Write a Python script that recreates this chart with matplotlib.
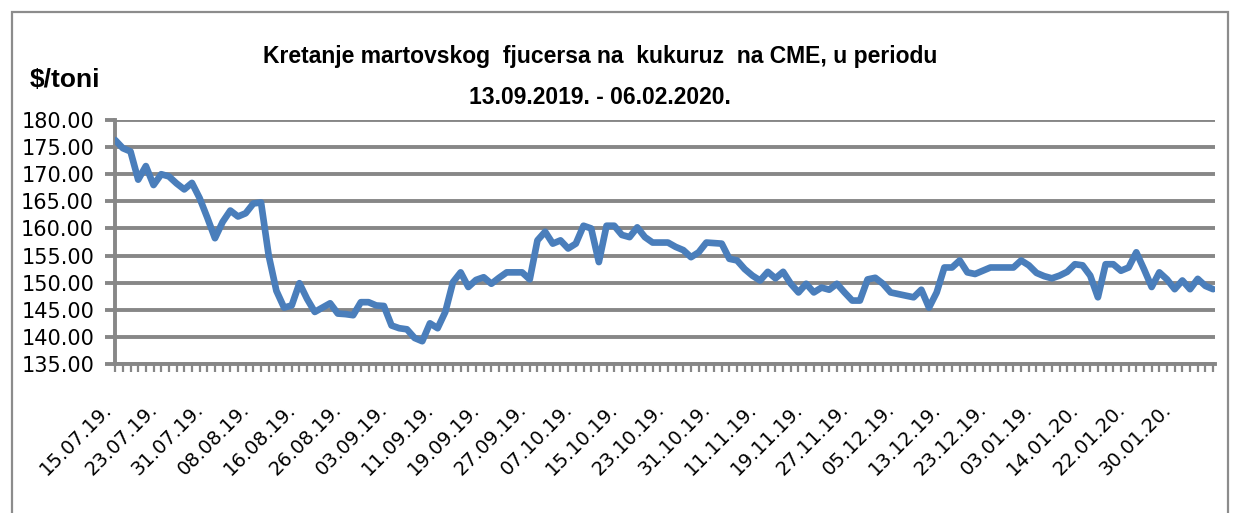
import matplotlib
matplotlib.use("Agg")
import matplotlib.pyplot as plt
from matplotlib.patches import Rectangle
from matplotlib.transforms import ScaledTranslation

# ---- data ----
values = [
    176.3, 174.8, 174.2, 169.0, 171.5, 168.0, 170.0, 169.6, 168.3, 167.2,
    168.4, 165.6, 162.0, 158.2, 161.2, 163.3, 162.2, 162.8, 164.6, 164.8,
    155.0, 148.5, 145.4, 145.8, 149.9, 147.0, 144.6, 145.4, 146.2, 144.3,
    144.2, 144.0, 146.4, 146.4, 145.8, 145.7, 142.1, 141.6, 141.4, 139.8,
    139.2, 142.5, 141.6, 144.6, 150.1, 151.9, 149.2, 150.5, 151.0, 149.8,
    150.9, 151.9, 151.9, 151.9, 150.6, 157.8, 159.4, 157.2, 157.8, 156.3,
    157.2, 160.5, 160.0, 153.8, 160.5, 160.5, 158.8, 158.4, 160.2, 158.4,
    157.4, 157.4, 157.4, 156.6, 156.0, 154.7, 155.6, 157.4, 157.3, 157.2,
    154.4, 154.1, 152.5, 151.3, 150.4, 152.0, 150.8, 152.0, 149.8, 148.2,
    149.8, 148.2, 149.1, 148.7, 149.8, 148.2, 146.7, 146.7, 150.6, 150.9,
    149.8, 148.2, 147.9, 147.6, 147.3, 148.7, 145.4, 148.2, 152.8, 152.8,
    154.1, 151.9, 151.6, 152.2, 152.8, 152.8, 152.8, 152.8, 154.1, 153.2,
    151.8, 151.2, 150.8, 151.3, 152.0, 153.4, 153.2, 151.3, 147.3, 153.4,
    153.4, 152.2, 152.8, 155.6, 152.5, 149.2, 151.9, 150.6, 148.8, 150.4,
    148.8, 150.7, 149.4, 148.8,
]
tick_labels = [
    "15.07.19.", "23.07.19.", "31.07.19.", "08.08.19.", "16.08.19.",
    "26.08.19.", "03.09.19.", "11.09.19.", "19.09.19.", "27.09.19.",
    "07.10.19.", "15.10.19.", "23.10.19.", "31.10.19.", "11.11.19.",
    "19.11.19.", "27.11.19.", "05.12.19.", "13.12.19.", "23.12.19.",
    "03.01.19.", "14.01.20.", "22.01.20.", "30.01.20.",
]
label_step = 6
yticks = [135, 140, 145, 150, 155, 160, 165, 170, 175, 180]
title_line1 = "Kretanje martovskog  fjucersa na  kukuruz  na CME, u periodu"
title_line2 = "13.09.2019. - 06.02.2020."
unit_label = "$/toni"

# ---- figure ----
W, H = 1236, 513
fig = plt.figure(figsize=(W / 100, H / 100), dpi=100)
fig.patch.set_facecolor("white")

# outer frame
fig.add_artist(Rectangle((12 / W, -0.05), (1228 - 12) / W, 1.05 - 12 / H,
                         transform=fig.transFigure, fill=False,
                         edgecolor="#8c8c8c", linewidth=1.6))

ax = fig.add_axes([115 / W, 1 - 364 / H, (1215 - 115) / W, (364 - 120) / H])

x = list(range(len(values)))
ax.plot(x, values, color="#4a7ebb", linewidth=4.8, solid_joinstyle="round",
        solid_capstyle="round", zorder=3)

ax.set_ylim(135, 180)
ax.set_xlim(-0.02, len(values) - 1 + 0.25)

grid_c = "#878787"
ax.set_yticks(yticks)
ax.set_yticklabels([f"{v:.2f}" for v in yticks])
ax.yaxis.grid(True, color=grid_c, linewidth=2.8)
ax.set_axisbelow(True)

xt = list(range(len(values)))
lbls = [""] * len(values)
for k, t in enumerate(tick_labels):
    idx = k * label_step
    if idx < len(values):
        lbls[idx] = t
ax.set_xticks(xt)
ax.set_xticklabels(lbls, rotation=45, ha="right", va="top",
                   fontsize=14, family="DejaVu Sans")
shift = ScaledTranslation(3 / 100, 0, fig.dpi_scale_trans)
for lab in ax.get_xticklabels():
    lab.set_transform(lab.get_transform() + shift)

ax.tick_params(axis="y", direction="out", length=7, width=2.8, color=grid_c,
               pad=8, labelsize=15)
ax.tick_params(axis="x", direction="out", length=6, width=1.6, color=grid_c,
               pad=20)

for s in ["top", "right"]:
    ax.spines[s].set_visible(False)
for s in ["left", "bottom"]:
    ax.spines[s].set_color(grid_c)
    ax.spines[s].set_linewidth(2.8)

# titles
fig.text(600 / W, 1 - 57 / H, title_line1, ha="center", va="center",
         fontsize=16.5, fontweight="bold", family="Liberation Sans")
fig.text(600 / W, 1 - 97 / H, title_line2, ha="center", va="center",
         fontsize=16.5, fontweight="bold", family="Liberation Sans")
fig.text(30 / W, 1 - 80 / H, unit_label, ha="left", va="center",
         fontsize=19, fontweight="bold", family="Liberation Sans")

fig.savefig("out.png", dpi=100, facecolor="white")
